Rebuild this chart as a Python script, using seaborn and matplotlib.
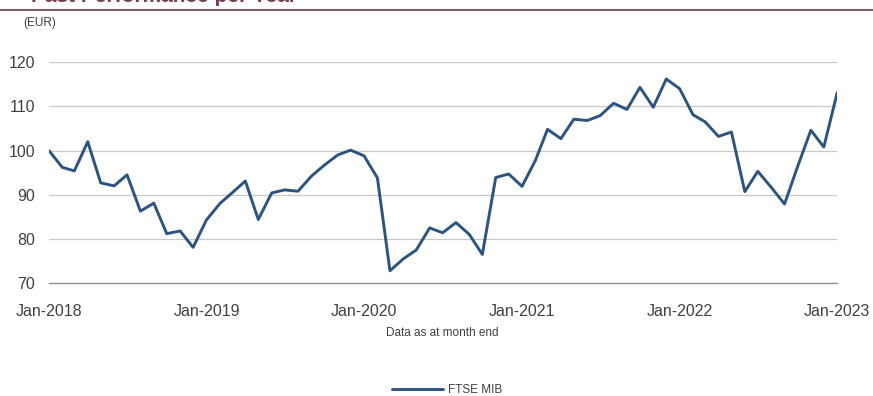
import numpy as np
import pandas as pd
import matplotlib
matplotlib.use('Agg')
import matplotlib.pyplot as plt
import matplotlib.dates as mdates
import seaborn as sns

# month-end index levels, Jan-2018 = 100
start_month = '2018-01-01'
ftse_mib = [100.0, 96.2, 95.4, 102.0, 92.7, 92.0, 94.5, 86.3, 88.1, 81.2, 81.8, 78.1,
            84.3, 88.0, 90.4, 93.1, 84.4, 90.4, 91.1, 90.8, 94.2, 96.7, 99.0, 100.1,
            98.8, 93.8, 72.8, 75.5, 77.5, 82.5, 81.4, 83.7, 81.0, 76.5, 93.9, 94.7,
            91.9, 97.8, 104.8, 102.7, 107.1, 106.8, 107.9, 110.7, 109.3, 114.3, 109.8, 116.2,
            114.0, 108.1, 106.5, 103.2, 104.2, 90.7, 95.3, 91.7, 87.9, 96.3, 104.6, 100.8,
            113.1]
y_ticks = [70, 80, 90, 100, 110, 120]
series_name = 'FTSE MIB'

df = pd.DataFrame({
    'Date': pd.date_range(start_month, periods=len(ftse_mib), freq='MS'),
    'Value': ftse_mib,
    'Series': series_name,
})

sns.set_style('white')
plt.rcParams['font.family'] = ['Liberation Sans', 'DejaVu Sans']

fig = plt.figure(figsize=(8.73, 3.96), dpi=100)
ax = fig.add_axes([0.056, 0.285, 0.903, 0.558])

sns.lineplot(data=df, x='Date', y='Value', hue='Series', palette=['#2c5482'],
             linewidth=2.1, legend=False, ax=ax)

ax.set_xlim(df['Date'].iloc[0], df['Date'].iloc[-1])
ax.set_ylim(y_ticks[0], y_ticks[-1])
ax.set_yticks(y_ticks)
ax.xaxis.set_major_locator(mdates.YearLocator())
ax.xaxis.set_major_formatter(mdates.DateFormatter('%b-%Y'))

ax.grid(axis='y', color='#c8c8c8', linewidth=0.9)
ax.set_axisbelow(True)
for side in ['top', 'right', 'left']:
    ax.spines[side].set_visible(False)
ax.spines['bottom'].set_color('#8c8c8c')
ax.spines['bottom'].set_linewidth(0.9)
ax.tick_params(axis='x', length=4, width=0.9, color='#8c8c8c', labelsize=11.5,
               labelcolor='#404040', pad=11)
ax.tick_params(axis='y', length=0, labelsize=11.5, labelcolor='#404040', pad=10)
ax.set_xlabel('')
ax.set_ylabel('')

# header cut off at the top edge, and its rule
fig.text(0.035, 0.996, 'Past Performance per Year', fontsize=15, fontweight='bold',
         color='#7a3a55', va='baseline')
fig.add_artist(plt.Line2D([0, 1], [0.975, 0.975], color='#6e3a50', linewidth=1.2,
                          transform=fig.transFigure))

fig.text(0.027, 0.942, '(EUR)', fontsize=8.5, color='#404040', va='center')
fig.text(0.507, 0.158, 'Data as at month end', fontsize=8.5, color='#404040', ha='center', va='center')

handle = plt.Line2D([], [], color='#2c5482', linewidth=2.1)
fig.legend([handle], [series_name], loc='center', bbox_to_anchor=(0.512, 0.016),
           frameon=False, fontsize=8.5, handlelength=4.3, handletextpad=0.4,
           labelcolor='#404040')

fig.savefig('out.png', dpi=100)
